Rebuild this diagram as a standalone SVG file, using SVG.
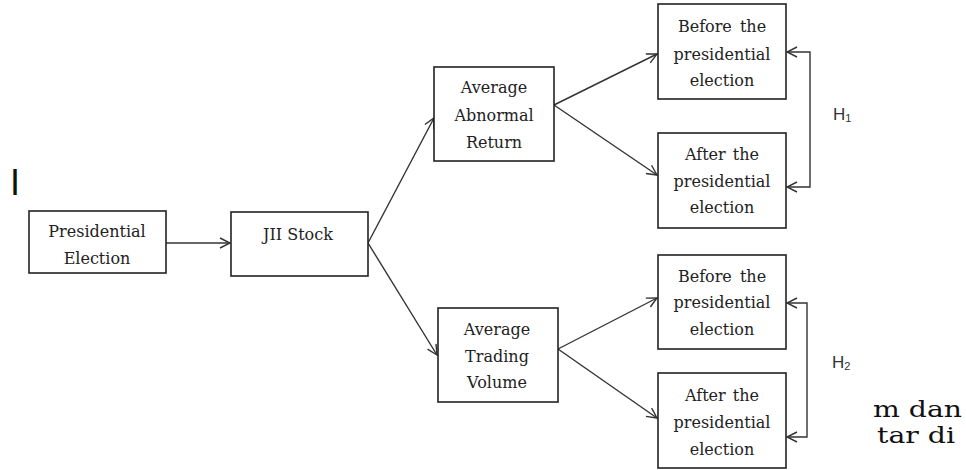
<svg xmlns="http://www.w3.org/2000/svg" width="966" height="470" viewBox="0 0 966 470">
<style>
.box{fill:#fff;stroke:#222;stroke-width:1.6}
.t{font-family:'DejaVu Serif',serif;font-size:16px;fill:#222;text-anchor:middle}
.c{fill:none;stroke:#333;stroke-width:1.4}
.h{font-family:'Liberation Sans',Arial,sans-serif;font-size:17px;fill:#333}
.p{font-family:'DejaVu Serif',serif;font-size:23px;fill:#111}
</style>
<defs>
<marker id="arr" viewBox="0 0 12 12" refX="11" refY="6" markerWidth="12" markerHeight="12" markerUnits="userSpaceOnUse" orient="auto-start-reverse">
<path d="M1,1 L11,6 L1,11" fill="none" stroke="#333" stroke-width="1.4"/>
</marker>
</defs>
<rect width="966" height="470" fill="#fff"/>
<text x="10" y="195" font-family="'Liberation Sans',Arial,sans-serif" font-size="36" fill="#111">I</text>
<g id="connectors">
<line class="c" x1="166" y1="243" x2="230" y2="243" marker-end="url(#arr)"/>
<line class="c" x1="368" y1="243" x2="434" y2="118" marker-end="url(#arr)"/>
<line class="c" x1="368" y1="243" x2="437" y2="355" marker-end="url(#arr)"/>
<line class="c" x1="554" y1="105" x2="657" y2="54" marker-end="url(#arr)"/>
<line class="c" x1="554" y1="105" x2="657" y2="175" marker-end="url(#arr)"/>
<line class="c" x1="558" y1="349" x2="657" y2="298" marker-end="url(#arr)"/>
<line class="c" x1="558" y1="349" x2="657" y2="418" marker-end="url(#arr)"/>
<path class="c" d="M787,52 H810 V187 H787" marker-start="url(#arr)" marker-end="url(#arr)"/>
<path class="c" d="M787,303 H807 V437 H787" marker-start="url(#arr)" marker-end="url(#arr)"/>
</g>
<g id="presidential-election">
<rect class="box" x="29" y="211" width="137" height="62"/>
<text class="t" x="97" y="237">Presidential</text>
<text class="t" x="97" y="264">Election</text>
</g>
<g id="jii-stock">
<rect class="box" x="231" y="212" width="137" height="64"/>
<text class="t" x="298" y="240">JII Stock</text>
</g>
<g id="aar">
<rect class="box" x="434" y="67" width="120" height="94"/>
<text class="t" x="494" y="93">Average</text>
<text class="t" x="494" y="121">Abnormal</text>
<text class="t" x="494" y="148">Return</text>
</g>
<g id="atv">
<rect class="box" x="438" y="308" width="120" height="94"/>
<text class="t" x="497" y="335">Average</text>
<text class="t" x="497" y="362">Trading</text>
<text class="t" x="497" y="388">Volume</text>
</g>
<g id="before-1">
<rect class="box" x="658" y="4" width="128" height="95"/>
<text class="t" x="722" y="32" word-spacing="3">Before the</text>
<text class="t" x="722" y="60">presidential</text>
<text class="t" x="722" y="86">election</text>
</g>
<g id="after-1">
<rect class="box" x="658" y="133" width="128" height="95"/>
<text class="t" x="722" y="160" word-spacing="2">After the</text>
<text class="t" x="722" y="187">presidential</text>
<text class="t" x="722" y="213">election</text>
</g>
<g id="before-2">
<rect class="box" x="658" y="255" width="128" height="94"/>
<text class="t" x="722" y="282" word-spacing="3">Before the</text>
<text class="t" x="722" y="308">presidential</text>
<text class="t" x="722" y="335">election</text>
</g>
<g id="after-2">
<rect class="box" x="658" y="373" width="128" height="95"/>
<text class="t" x="722" y="401" word-spacing="2">After the</text>
<text class="t" x="722" y="428">presidential</text>
<text class="t" x="722" y="455">election</text>
</g>
<g id="h1">
<text class="h" x="833" y="120">H<tspan font-size="11" dy="2">1</tspan></text>
</g>
<g id="h2">
<text class="h" x="832" y="368">H<tspan font-size="11" dy="2">2</tspan></text>
</g>
<text class="p" x="873" y="417" textLength="89" lengthAdjust="spacingAndGlyphs">m dan</text>
<text class="p" x="877" y="443" textLength="78" lengthAdjust="spacingAndGlyphs">tar  di</text>
</svg>
